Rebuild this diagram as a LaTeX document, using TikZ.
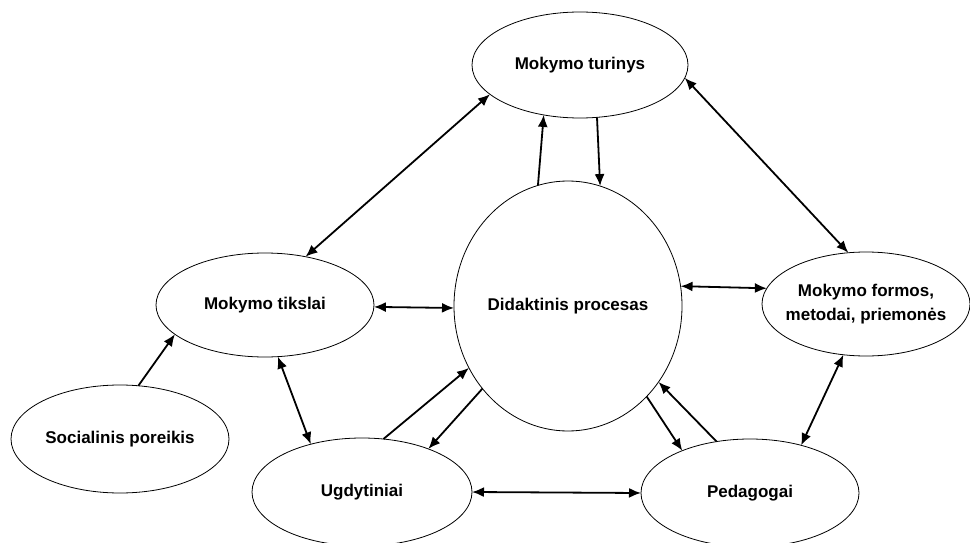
\documentclass[tikz,border=0pt]{standalone}
\usepackage{fontspec}
\setmainfont{Liberation Sans}
\usetikzlibrary{shapes.geometric, arrows.meta}

\begin{document}
\begin{tikzpicture}[x=1pt, y=-1pt,
    blob/.style={draw, ellipse, line width=0.8pt, inner sep=0pt, outer sep=0pt,
        align=center, font=\fontsize{17}{24}\selectfont\bfseries},
    link/.style={line width=1.8pt, -{Latex[length=12pt,width=10pt]}},
    both/.style={line width=1.8pt, {Latex[length=12pt,width=10pt]}-{Latex[length=12pt,width=10pt]}}]
    \useasboundingbox (0,0) rectangle (970,543);

    %Ellipses
    \node [blob, minimum width=216pt, minimum height=106pt] (turinys) at (580,65) {Mokymo turinys};
    \node [blob, minimum width=228pt, minimum height=250pt] (procesas) at (568,306) {Didaktinis procesas};
    \node [blob, minimum width=218pt, minimum height=104pt] (tikslai) at (265,305) {Mokymo tikslai};
    \node [blob, minimum width=208pt, minimum height=104pt, inner xsep=-7pt] (formos) at (866,304) {Mokymo formos,\\metodai, priemonės};
    \node [blob, minimum width=218pt, minimum height=108pt] (poreikis) at (120,439) {Socialinis poreikis};
    \node [blob, minimum width=220pt, minimum height=108pt] (ugdytiniai) at (362,492) {Ugdytiniai};
    \node [blob, minimum width=218pt, minimum height=108pt] (pedagogai) at (750,493) {Pedagogai};

    %Both ways
    \draw [both] (turinys.-162) -- (tikslai.50);
    \draw [both] (turinys.-7.3) -- (formos.109);
    \draw [both] (tikslai.-1.5) -- (procesas.-179);
    \draw [both] (procesas.10) -- (formos.171.6);
    \draw [both] (tikslai.-76.5) -- (ugdytiniai.137.9);
    \draw [both] (ugdytiniai.east) -- (pedagogai.west);
    \draw [both] (pedagogai.43.9) -- (formos.-114);

    %One way
    \draw [link] (procesas.104.4) -- (turinys.-126.5);
    \draw [link] (turinys.-72.2) -- (procesas.75.4);
    \draw [link] (poreikis.71.6) -- (tikslai.-162.1);
    \draw [link] (ugdytiniai.68.4) -- (procesas.-148.6);
    \draw [link] (procesas.-136.3) -- (ugdytiniai.33.1);
    \draw [link] (procesas.-49.7) -- (pedagogai.148.4);
    \draw [link] (pedagogai.123.9) -- (procesas.-40.2);
\end{tikzpicture}
\end{document}
